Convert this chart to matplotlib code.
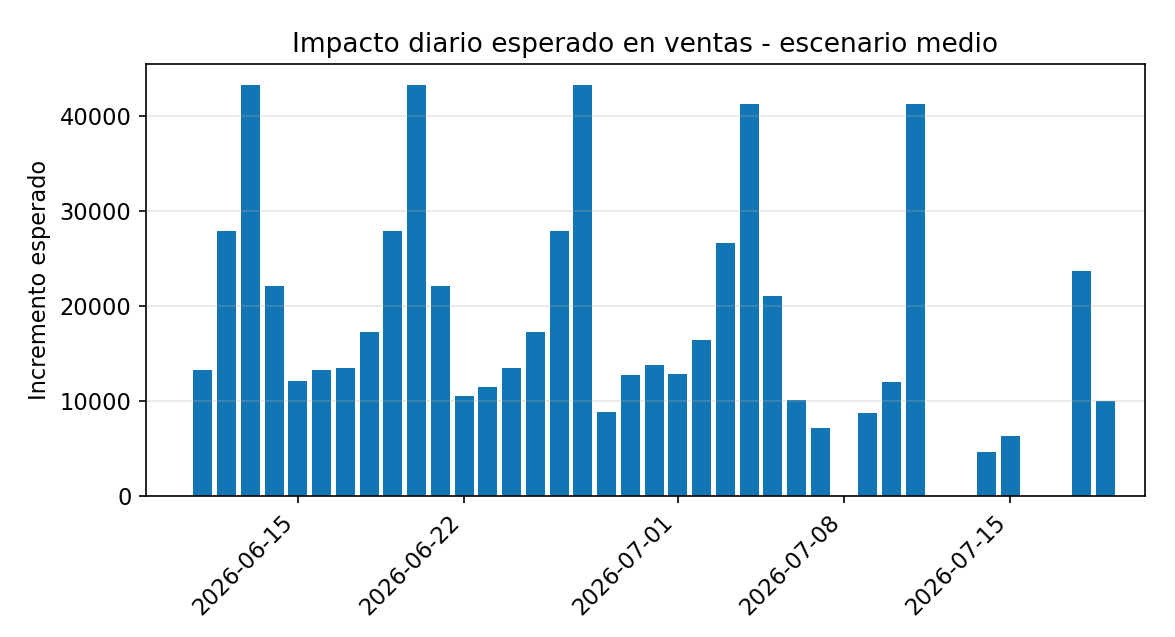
import matplotlib
matplotlib.use("Agg")
import matplotlib.pyplot as plt
import matplotlib.dates as mdates
import pandas as pd

fechas = ["2026-06-11", "2026-06-12", "2026-06-13", "2026-06-14", "2026-06-15",
          "2026-06-16", "2026-06-17", "2026-06-18", "2026-06-19", "2026-06-20",
          "2026-06-21", "2026-06-22", "2026-06-23", "2026-06-24", "2026-06-25",
          "2026-06-26", "2026-06-27", "2026-06-28", "2026-06-29", "2026-06-30",
          "2026-07-01", "2026-07-02", "2026-07-03", "2026-07-04", "2026-07-05",
          "2026-07-06", "2026-07-07", "2026-07-09", "2026-07-10", "2026-07-11",
          "2026-07-14", "2026-07-15", "2026-07-18", "2026-07-19"]
incremento = [13260, 27890, 43260, 22100, 12100,
              13260, 13470, 17260, 27890, 43260,
              22100, 10530, 11470, 13470, 17260,
              27890, 43260, 8840, 12740, 13790,
              12840, 16420, 26630, 41260, 21050,
              10100, 7160, 8740, 12000, 41260,
              4630, 6320, 23680, 10000]
ticks = ["2026-06-15", "2026-06-22", "2026-07-01", "2026-07-08", "2026-07-15"]

plt.rcParams["font.size"] = 10.8

x = pd.to_datetime(fechas)

fig = plt.figure(figsize=(1175 / 150, 637 / 150), dpi=150)
ax = fig.add_axes([0.1243, 0.2214, 0.8502, 0.6781])
ax.bar(x, incremento, width=0.8, color="#0a71b4", alpha=0.97)
ax.set_title("Impacto diario esperado en ventas - escenario medio", fontsize=12.7)
ax.set_ylabel("Incremento esperado")
ax.grid(axis="y", alpha=0.3)
ax.set_xticks(pd.to_datetime(ticks))
ax.xaxis.set_major_formatter(mdates.DateFormatter("%Y-%m-%d"))
ax.set_xlim(pd.Timestamp("2026-06-08") + pd.Timedelta(hours=14.6),
            pd.Timestamp("2026-07-20") + pd.Timedelta(hours=16))
plt.setp(ax.get_xticklabels(), rotation=45, ha="right")
fig.savefig("out.png", dpi=150, facecolor="white")
